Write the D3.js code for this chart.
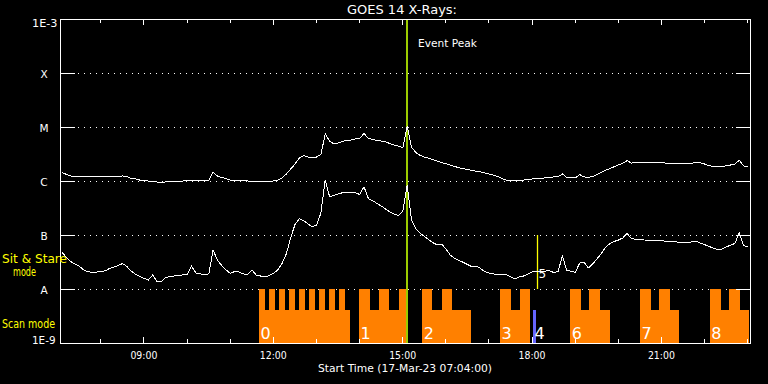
<!DOCTYPE html>
<html>
<head>
<meta charset="utf-8">
<script src="https://cdn.jsdelivr.net/npm/d3@7"></script>
<style>
  html, body { margin: 0; padding: 0; background: #000; }
  svg { display: block; }
  text { font-family: "DejaVu Sans", sans-serif; fill: #fff; }
</style>
</head>
<body>
<svg id="chart" width="768" height="384"></svg>
<script>
// ============================================================
// GOES 14 X-Rays
// ============================================================

const day        = '2023-03-17';
const startTime  = '07:04';
const endTime    = '23:04';
const firstSample = '07:07';   // samples every 6 minutes from here
const cadenceMin = 6;

// 1-8 A channel (W/m^2)
const xrsLong = [
  1.44e-6, 1.32e-6, 1.24e-6, 1.19e-6, 1.19e-6, 1.19e-6, 1.19e-6, 1.19e-6, 1.19e-6, 1.19e-6,
  1.19e-6, 1.19e-6, 1.19e-6, 1.19e-6, 1.24e-6, 1.21e-6, 1.11e-6, 1.09e-6, 1.04e-6, 1.02e-6,
  1.00e-6, 9.8e-7,  9.6e-7,  9.4e-7,  9.6e-7,  9.6e-7,  1.00e-6, 1.00e-6, 1.00e-6, 1.02e-6,
  1.04e-6, 1.04e-6, 1.02e-6, 1.04e-6, 1.04e-6, 1.44e-6, 1.24e-6, 1.16e-6, 1.11e-6, 1.04e-6,
  1.04e-6, 1.02e-6, 1.02e-6, 1.00e-6, 9.8e-7,  9.8e-7,  9.6e-7,  9.6e-7,  9.8e-7,  1.00e-6,
  1.04e-6, 1.14e-6, 1.35e-6, 1.67e-6, 2.06e-6, 2.67e-6, 2.94e-6, 2.78e-6, 2.67e-6, 2.78e-6,
  3.10e-6, 7.43e-6, 5.51e-6, 4.83e-6, 5.05e-6, 5.40e-6, 5.63e-6, 5.75e-6, 6.00e-6, 6.18e-6,
  7.58e-6, 6.12e-6, 5.88e-6, 5.63e-6, 5.51e-6, 5.28e-6, 4.94e-6, 4.64e-6, 4.44e-6, 4.17e-6,
  1.05e-5, 4.25e-6, 3.37e-6, 2.99e-6, 2.78e-6, 2.63e-6, 2.50e-6, 2.34e-6, 2.20e-6, 2.08e-6,
  1.98e-6, 1.86e-6, 1.76e-6, 1.69e-6, 1.63e-6, 1.58e-6, 1.51e-6, 1.47e-6, 1.41e-6, 1.35e-6,
  1.29e-6, 1.21e-6, 1.11e-6, 1.04e-6, 1.02e-6, 1.02e-6, 1.03e-6, 1.04e-6, 1.07e-6, 1.09e-6,
  1.10e-6, 1.12e-6, 1.14e-6, 1.16e-6, 1.19e-6, 1.20e-6, 1.35e-6, 1.17e-6, 1.16e-6, 1.14e-6,
  1.32e-6, 1.19e-6, 1.17e-6, 1.21e-6, 1.32e-6, 1.45e-6, 1.58e-6, 1.69e-6, 1.84e-6, 1.98e-6,
  2.15e-6, 2.38e-6, 2.15e-6, 2.18e-6, 2.22e-6, 2.22e-6, 2.20e-6, 2.20e-6, 2.18e-6, 2.18e-6,
  2.15e-6, 2.13e-6, 2.11e-6, 2.09e-6, 2.09e-6, 2.13e-6, 2.15e-6, 2.17e-6, 2.18e-6, 2.06e-6,
  1.92e-6, 1.87e-6, 1.84e-6, 1.86e-6, 1.91e-6, 1.98e-6, 2.06e-6, 2.42e-6, 1.90e-6, 1.87e-6
];

// 0.5-4 A channel (W/m^2)
const xrsShort = [
  4.74e-8, 3.83e-8, 3.23e-8, 2.87e-8, 2.63e-8, 2.25e-8, 2.08e-8, 2.04e-8, 2.06e-8, 2.11e-8,
  2.17e-8, 2.40e-8, 2.56e-8, 2.72e-8, 2.97e-8, 2.61e-8, 2.15e-8, 1.87e-8, 1.70e-8, 1.57e-8,
  1.47e-8, 1.82e-8, 1.38e-8, 1.38e-8, 1.63e-8, 1.69e-8, 1.74e-8, 1.78e-8, 1.82e-8, 1.84e-8,
  2.67e-8, 1.98e-8, 1.90e-8, 1.86e-8, 1.90e-8, 5.28e-8, 3.44e-8, 2.72e-8, 2.25e-8, 1.95e-8,
  2.11e-8, 2.06e-8, 1.90e-8, 1.86e-8, 2.25e-8, 1.82e-8, 1.74e-8, 1.67e-8, 1.78e-8, 1.94e-8,
  2.25e-8, 2.97e-8, 4.53e-8, 8.99e-8, 1.57e-7, 2.00e-7, 1.84e-7, 1.60e-7, 1.41e-7, 1.53e-7,
  2.56e-7, 1.04e-6, 5.16e-7, 5.40e-7, 5.79e-7, 6.05e-7, 6.18e-7, 6.26e-7, 6.07e-7, 5.63e-7,
  7.84e-7, 4.74e-7, 4.32e-7, 3.83e-7, 3.44e-7, 3.03e-7, 2.67e-7, 2.45e-7, 2.30e-7, 2.78e-7,
  8.43e-7, 1.90e-7, 1.32e-7, 1.08e-7, 9.38e-8, 8.18e-8, 7.20e-8, 6.52e-8, 6.81e-8, 5.51e-8,
  4.25e-8, 3.67e-8, 3.37e-8, 3.12e-8, 2.84e-8, 2.59e-8, 2.67e-8, 2.40e-8, 2.11e-8, 1.98e-8,
  1.90e-8, 1.87e-8, 1.88e-8, 1.86e-8, 1.67e-8, 1.53e-8, 1.67e-8, 1.74e-8, 1.90e-8, 2.08e-8,
  2.11e-8, 2.11e-8, 2.15e-8, 2.18e-8, 2.02e-8, 2.11e-8, 4.09e-8, 2.20e-8, 2.13e-8, 2.02e-8,
  3.03e-8, 3.16e-8, 2.45e-8, 2.90e-8, 3.59e-8, 4.53e-8, 5.94e-8, 6.87e-8, 7.58e-8, 8.08e-8,
  8.80e-8, 1.07e-7, 8.51e-8, 8.37e-8, 8.18e-8, 8.08e-8, 8.01e-8, 7.94e-8, 7.88e-8, 7.81e-8,
  7.68e-8, 7.58e-8, 7.48e-8, 7.36e-8, 7.30e-8, 7.27e-8, 7.43e-8, 7.68e-8, 7.10e-8, 6.61e-8,
  6.12e-8, 5.75e-8, 5.40e-8, 5.51e-8, 6.00e-8, 6.52e-8, 6.96e-8, 1.09e-7, 6.38e-8, 6.00e-8
];

// flux classes on the left
const levelValues = [1e-3, 1e-4, 1e-5, 1e-6, 1e-7, 1e-8, 1e-9];
const levelLabels = ['1E-3', 'X', 'M', 'C', 'B', 'A', '1E-9'];

// instrument scan mode blocks (orange), number shown at block start
const scanIds   = ['0', '1', '2', '3', '6', '7', '8'];
const scanSpans = [
  ['11:41', '13:48'], ['14:00', '15:07'], ['15:28', '16:36'], ['17:16', '17:58'],
  ['18:54', '19:49'], ['20:31', '21:25'], ['22:08', '23:03']
];
const scanFull = [
  ['11:41', '11:49'], ['11:55', '12:03'], ['12:09', '12:17'], ['12:23', '12:31'], ['12:37', '12:45'],
  ['12:50', '12:59'], ['13:04', '13:13'], ['13:18', '13:27'], ['13:32', '13:41'],
  ['14:00', '14:15'], ['14:28', '14:42'], ['14:55', '15:07'],
  ['15:28', '15:42'], ['15:55', '16:09'],
  ['17:16', '17:32'], ['17:44', '17:58'],
  ['18:54', '19:09'], ['19:20', '19:35'],
  ['20:31', '20:46'], ['20:57', '21:13'],
  ['22:08', '22:24'], ['22:35', '22:50']
];
const shortScanIds   = ['4'];
const shortScanSpans = [['18:02', '18:06']];
const stareIds   = ['5'];
const stareTimes = ['18:07'];
const eventPeak  = '15:06';

// ============================================================
// scales / helpers
// ============================================================

const parse = d3.utcParse('%Y-%m-%d %H:%M');
const T = hm => parse(day + ' ' + hm);

const svg = d3.select('#chart');
const W = 768, H = 384;
svg.append('rect').attr('width', W).attr('height', H).attr('fill', '#000');

const x = d3.scaleUtc().domain([T(startTime), T(endTime)]).range([60, 750]);
const y = d3.scaleLog().domain([1e-9, 1e-3]).range([343, 19]);
const modeY = d3.scaleLinear().domain([0, 1]).range([343, 289]);
const baseLevel = 0.61;

const t0 = T(firstSample);
const sampleTime = i => d3.utcMinute.offset(t0, i * cadenceMin);

function fit(sel, w) {
  return sel.attr('textLength', w).attr('lengthAdjust', 'spacingAndGlyphs');
}

const ORANGE = '#ff8000', GREEN = '#9ccc00', BLUE = '#6666ff', YELLOW = '#ffff00';

// ---- dotted level lines ----
svg.append('g')
  .selectAll('line')
  .data(levelValues.slice(1, -1))
  .join('line')
  .attr('x1', 78).attr('x2', 736)
  .attr('y1', d => y(d) + 0.5).attr('y2', d => y(d) + 0.5)
  .attr('stroke', '#fff').attr('stroke-dasharray', '1,5')
  .attr('shape-rendering', 'crispEdges');

// ---- scan mode bars ----
const bars = svg.append('g').attr('shape-rendering', 'crispEdges');
const rx = t => Math.round(x(T(t)));

bars.selectAll('rect.base')
  .data(scanSpans)
  .join('rect').attr('class', 'base')
  .attr('x', d => rx(d[0])).attr('width', d => rx(d[1]) - rx(d[0]))
  .attr('y', modeY(baseLevel)).attr('height', modeY(0) - modeY(baseLevel))
  .attr('fill', ORANGE);

bars.selectAll('rect.full')
  .data(scanFull)
  .join('rect').attr('class', 'full')
  .attr('x', d => rx(d[0])).attr('width', d => rx(d[1]) - rx(d[0]))
  .attr('y', modeY(1)).attr('height', modeY(0) - modeY(1))
  .attr('fill', ORANGE);

bars.selectAll('rect.short')
  .data(shortScanSpans)
  .join('rect').attr('class', 'short')
  .attr('x', d => rx(d[0])).attr('width', d => rx(d[1]) - rx(d[0]))
  .attr('y', modeY(baseLevel)).attr('height', modeY(0) - modeY(baseLevel))
  .attr('fill', BLUE);

// sit & stare marker
svg.selectAll('line.stare')
  .data(stareTimes)
  .join('line').attr('class', 'stare')
  .attr('x1', d => rx(d) + 0.5).attr('x2', d => rx(d) + 0.5)
  .attr('y1', y(1e-7)).attr('y2', y(1e-8))
  .attr('stroke', YELLOW).attr('stroke-width', 1.3);

// event peak line
svg.append('line')
  .attr('x1', x(T(eventPeak)) + 0.5).attr('x2', x(T(eventPeak)) + 0.5)
  .attr('y1', y(1e-3)).attr('y2', y(1e-9) + 1)
  .attr('stroke', GREEN).attr('stroke-width', 2)
  .attr('shape-rendering', 'crispEdges');

// block numbers
const numbers = scanIds.map((id, i) => ({ id, t: scanSpans[i][0] }))
  .concat(shortScanIds.map((id, i) => ({ id, t: shortScanSpans[i][0] })));
svg.append('g').selectAll('text')
  .data(numbers)
  .join('text')
  .attr('x', d => x(T(d.t)) + 1.5).attr('y', 339)
  .attr('font-size', 16)
  .text(d => d.id);

svg.append('g').selectAll('text')
  .data(stareIds)
  .join('text')
  .attr('x', (d, i) => x(T(stareTimes[i])) + 2).attr('y', 278)
  .attr('font-size', 12)
  .text(d => d);

// ---- flux curves ----
const line = d3.line()
  .x((d, i) => x(sampleTime(i)))
  .y(d => y(d));

[xrsLong, xrsShort].forEach(series => {
  svg.append('path')
    .datum(series)
    .attr('d', line)
    .attr('fill', 'none')
    .attr('stroke', '#fff')
    .attr('stroke-width', 1)
    .attr('shape-rendering', 'crispEdges');
});

// ---- axes ----
function styleAxis(g) {
  g.attr('color', '#fff').attr('shape-rendering', 'crispEdges');
  g.select('.domain').remove();
}

const hours  = d3.utcHour.every(1);
const hours3 = d3.utcHour.every(3);

svg.append('g').attr('transform', 'translate(0,343)')
  .call(d3.axisBottom(x).ticks(hours).tickSizeInner(-4).tickSizeOuter(0).tickFormat(''))
  .call(styleAxis);
svg.append('g').attr('transform', 'translate(0,343)')
  .call(d3.axisBottom(x).ticks(hours3).tickSizeInner(-6).tickSizeOuter(0).tickPadding(9)
    .tickFormat(d3.utcFormat('%H:%M')))
  .call(styleAxis)
  .call(g => g.selectAll('text').attr('font-size', 10).attr('fill', '#fff')
    .each(function () { fit(d3.select(this), 27); }));

svg.append('g').attr('transform', 'translate(0,19)')
  .call(d3.axisTop(x).ticks(hours).tickSizeInner(-4).tickSizeOuter(0).tickFormat(''))
  .call(styleAxis);
svg.append('g').attr('transform', 'translate(0,19)')
  .call(d3.axisTop(x).ticks(hours3).tickSizeInner(-6).tickSizeOuter(0).tickFormat(''))
  .call(styleAxis);

svg.append('g').attr('transform', 'translate(60,0)')
  .call(d3.axisLeft(y).tickValues(levelValues.slice(1, -1)).tickSizeInner(-15).tickSizeOuter(0).tickFormat(''))
  .call(styleAxis);
svg.append('g').attr('transform', 'translate(750,0)')
  .call(d3.axisRight(y).tickValues(levelValues.slice(1, -1)).tickSizeInner(-14).tickSizeOuter(0).tickFormat(''))
  .call(styleAxis);

// frame
svg.append('rect')
  .attr('x', 60.5).attr('y', 19.5).attr('width', 690).attr('height', 324)
  .attr('fill', 'none').attr('stroke', '#fff')
  .attr('shape-rendering', 'crispEdges');

// level labels
const yl = svg.append('g');
levelLabels.forEach((lab, i) => {
  const v = levelValues[i];
  if (lab.startsWith('1E')) {
    const top = v === 1e-3;
    fit(yl.append('text')
      .attr('x', top ? 57.5 : 55.5)
      .attr('y', top ? y(v) + 8 : y(v) + 1)
      .attr('text-anchor', 'end').attr('font-size', 11)
      .text(lab), top ? 25.5 : 23.5);
  } else {
    yl.append('text')
      .attr('x', 44).attr('y', y(v) + 4.5)
      .attr('text-anchor', 'middle').attr('font-size', 10.5)
      .text(lab);
  }
});

// ---- texts ----
fit(svg.append('text').attr('x', 402).attr('y', 14)
  .attr('text-anchor', 'middle').attr('font-size', 12)
  .text('GOES 14 X-Rays:'), 110);

fit(svg.append('text').attr('x', 405).attr('y', 372)
  .attr('text-anchor', 'middle').attr('font-size', 11)
  .text('Start Time (17-Mar-23 07:04:00)'), 174);

fit(svg.append('text').attr('x', 418).attr('y', 46.5)
  .attr('font-size', 11).text('Event Peak'), 59);

const modeLab = svg.append('g').style('fill', YELLOW);
fit(modeLab.append('text').attr('x', 2).attr('y', 263).attr('font-size', 12)
  .style('fill', YELLOW).text('Sit & Stare'), 65);
fit(modeLab.append('text').attr('x', 13).attr('y', 275.5).attr('font-size', 12)
  .style('fill', YELLOW).text('mode'), 23);
fit(modeLab.append('text').attr('x', 2).attr('y', 328).attr('font-size', 12)
  .style('fill', YELLOW).text('Scan mode'), 53);
</script>
</body>
</html>
